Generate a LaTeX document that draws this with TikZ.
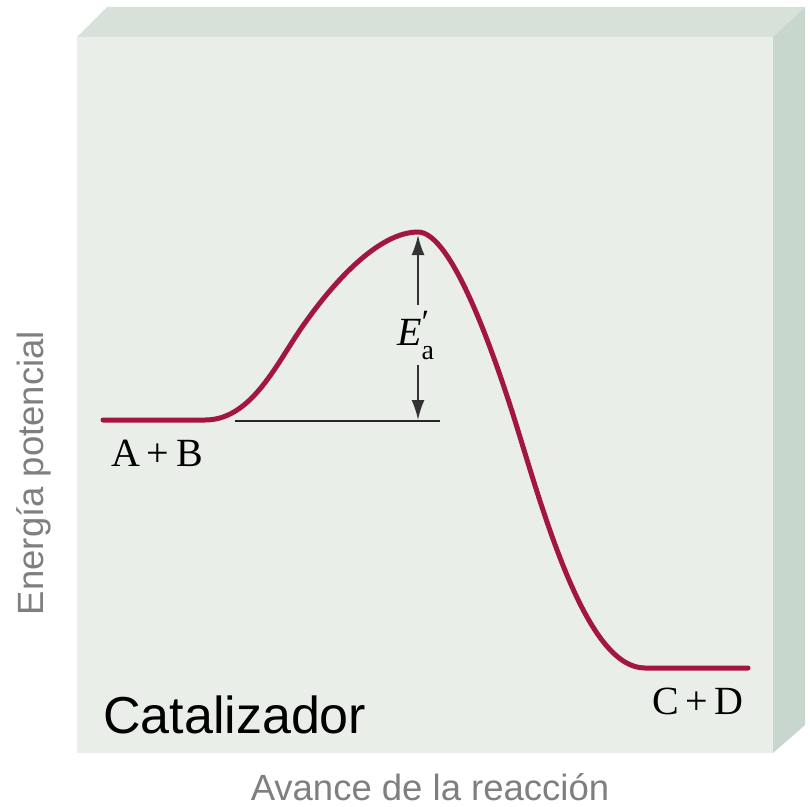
\documentclass[tikz,border=0pt]{standalone}
\usepackage{fontspec}
\setmainfont{Liberation Serif}
\newfontfamily\arialf{Liberation Sans}
\usetikzlibrary{arrows.meta}
\definecolor{frontc}{HTML}{E9EEE9}
\definecolor{topc}{HTML}{D7E1D9}
\definecolor{sidec}{HTML}{C8D7CD}
\definecolor{curvec}{HTML}{A3163F}
\definecolor{axisgray}{HTML}{7F7F7F}
\tikzset{
  energy/.style={draw=curvec, line width=5pt, line cap=round, line join=round},
  refline/.style={draw=black!85, line width=2pt},
  gap/.style={draw=black!80, line width=2pt, -{Latex[length=20pt,width=13pt]}},
  serifl/.style={font=\fontsize{40}{42}\selectfont, inner sep=0pt, anchor=base},
  axisl/.style={font=\arialf\fontsize{36.5}{38}\selectfont, text=axisgray, inner sep=0pt, anchor=base},
  bigl/.style={font=\arialf\fontsize{52}{54}\selectfont, text=black, inner sep=0pt, anchor=base west},
}
\begin{document}
\begin{tikzpicture}[x=1pt,y=-1pt]
\useasboundingbox (0,0) rectangle (810,806);
\fill[white] (0,0) rectangle (810,806);
% box faces
\fill[topc] (77,37) -- (107,7) -- (805,7) -- (773,37) -- cycle;
\fill[sidec] (773,37) -- (805,7) -- (805,725) -- (773,753) -- cycle;
\fill[frontc] (77,37) rectangle (773,753);
% coordinates
\coordinate (s0) at (103,420);
\coordinate (s1) at (205,420);
\coordinate (i1) at (300,330);
\coordinate (peak) at (418,232);
\coordinate (i2) at (520,437);
\coordinate (e1) at (645,668);
\coordinate (e0) at (748,668);
\coordinate (b0) at (235,421);
\coordinate (b1) at (440,421);
\coordinate (au0) at (418,305);
\coordinate (au1) at (418,235);
\coordinate (ad0) at (418,365);
\coordinate (ad1) at (418,420);
% curve
\draw[energy] (s0) -- (s1)
  .. controls (250,420) and (275,367) .. (i1)
  .. controls (335,279) and (380,232) .. (peak)
  .. controls (452,232) and (495,355) .. (i2)
  .. controls (550,535) and (590,668) .. (e1) -- (e0);
% reference line and arrows
\draw[refline] (b0) -- (b1);
\draw[gap] (au0) -- (au1);
\draw[gap] (ad0) -- (ad1);
% labels
\node[serifl, anchor=base west] (ea) at (397,345) {\textit{E}\makebox[0pt][l]{\kern-2pt\raisebox{0.28em}{\fontsize{34}{34}\selectfont\textit{′}}}\raisebox{-0.36em}{\fontsize{28}{28}\selectfont a}};
\node[serifl] (ab) at (157,466) {A\,+\,B};
\node[serifl] (cd) at (698,714) {C\,+\,D};
\node[bigl] (cat) at (103,733) {Catalizador};
\node[axisl, rotate=90] (ylab) at (43,473) {Energía potencial};
\node[axisl] (xlab) at (430,800) {Avance de la reacción};
\end{tikzpicture}
\end{document}
